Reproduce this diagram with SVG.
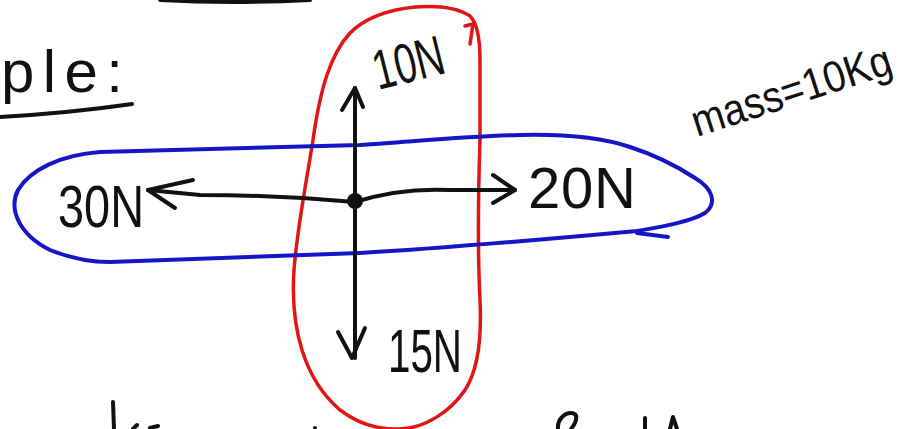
<svg xmlns="http://www.w3.org/2000/svg" width="921" height="429" viewBox="0 0 921 429">
<style>
.ink{fill:none;stroke:#111;stroke-width:4;stroke-linecap:round;stroke-linejoin:round}
.red{fill:none;stroke:#e01515;stroke-width:3.5;stroke-linecap:round;stroke-linejoin:round}
.blue{fill:none;stroke:#1515c8;stroke-width:4;stroke-linecap:round;stroke-linejoin:round}
.lbl{font-family:"Liberation Sans",Arial,sans-serif;fill:#111}
</style>
<rect width="921" height="429" fill="#fff"/>
<g id="fragments">
<path class="ink" d="M160,0 Q230,4 310,0"/>
<path class="ink" d="M113,402 L114,429"/>
<path class="ink" d="M133,429 L137,425"/>
<path class="ink" d="M150,428 L158,426"/>
<circle cx="315" cy="428" r="2" fill="#111"/>
<path class="ink" d="M558,429 C557,420 564,413 571,413 C578,413 578,420 571,429"/>
<path class="ink" d="M645,418 L645,429"/>
<path class="ink" d="M670,429 L673,417 L677,429"/>
</g>
<g id="title">
<text class="lbl" x="1" y="92" font-size="60" textLength="122" lengthAdjust="spacing">ple:</text>
<path class="ink" d="M0,117 Q70,113 132,104"/>
</g>
<g id="red-loop">
<path class="red" d="M313,140 C320,90 330,55 350,33 C365,18 385,10 415,7 C440,5 458,8 470,16 C478,24 480,40 480,60 L480,140 C478,200 478,260 480,300 C482,340 478,370 465,390 C450,412 425,428 400,429 C380,430 360,425 340,410 C305,380 290,330 294,270 C297,230 305,190 313,140"/>
<path class="red" d="M465,26 L473,24 L470,44"/>
</g>
<g id="blue-loop">
<path class="blue" d="M637,231 C660,227 690,222 705,213 C718,203 712,188 695,178 C675,165 655,155 630,147 C600,137 560,134 520,135 C470,136 420,141 360,145 L100,152 C60,155 30,170 18,190 C8,210 20,235 50,250 C70,258 90,262 110,262 L360,253 C450,248 560,238 637,231"/>
<path class="blue" d="M637,233 L668,237"/>
</g>
<g id="connectors">
<path class="ink" d="M355,88 L355,358"/>
<path class="ink" d="M342,110 L355,88 L363,107"/>
<path class="ink" d="M338,332 L352,358 L365,328"/>
<path class="ink" d="M355,202 C300,197 250,195 200,195 L148,190"/>
<path class="ink" d="M193,180 L148,190 L175,208"/>
<path class="ink" d="M355,202 C380,194 410,188 450,190 L515,190"/>
<path class="ink" d="M493,175 L515,190 L493,203"/>
</g>
<g id="body">
<circle cx="355" cy="201" r="8" fill="#111"/>
</g>
<g id="label-10N">
<text class="lbl" x="0" y="0" font-size="56" textLength="72" lengthAdjust="spacingAndGlyphs" transform="translate(378,90) rotate(-14)">10N</text>
</g>
<g id="label-30N">
<text class="lbl" x="58" y="227" font-size="60" textLength="86" lengthAdjust="spacingAndGlyphs">30N</text>
</g>
<g id="label-20N">
<text class="lbl" x="528" y="208" font-size="58" textLength="108" lengthAdjust="spacing">20N</text>
</g>
<g id="label-15N">
<text class="lbl" x="388" y="372" font-size="62" textLength="74" lengthAdjust="spacingAndGlyphs">15N</text>
</g>
<g id="label-mass">
<text class="lbl" x="0" y="0" font-size="44" textLength="208" lengthAdjust="spacingAndGlyphs" transform="translate(697,137) rotate(-18)">mass=10Kg</text>
</g>
</svg>
